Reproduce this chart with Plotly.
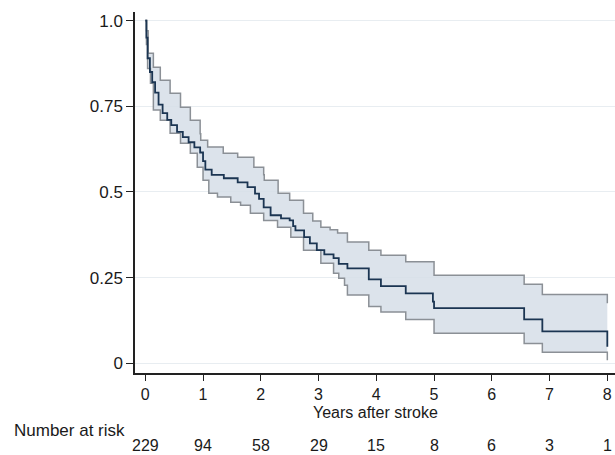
import plotly.graph_objects as go

# Kaplan-Meier estimate (step function)
km_t = [0, 0.02, 0.04, 0.08, 0.12, 0.17, 0.23, 0.30, 0.38, 0.45, 0.55, 0.65, 0.75, 0.85, 0.95,
        1.0, 1.04, 1.15, 1.36, 1.6, 1.77, 1.9, 1.97, 2.05, 2.17, 2.35, 2.5, 2.56, 2.6, 2.75, 2.85,
        2.97, 3.1, 3.26, 3.35, 3.5, 3.87, 4.08, 4.51, 4.98, 5.0, 6.56, 6.875, 8.0]
km_s = [1.0, 0.95, 0.89, 0.85, 0.82, 0.79, 0.755, 0.73, 0.71, 0.695, 0.675, 0.66, 0.645, 0.63, 0.615,
        0.59, 0.565, 0.55, 0.54, 0.528, 0.514, 0.495, 0.48, 0.455, 0.432, 0.423, 0.417, 0.40, 0.388, 0.368, 0.35,
        0.33, 0.318, 0.307, 0.29, 0.277, 0.245, 0.225, 0.204, 0.18, 0.161, 0.128, 0.093, 0.048]

# upper confidence bound
up_t = [0, 0.02, 0.05, 0.14, 0.26, 0.43, 0.61, 0.78, 0.95, 0.96, 1.08, 1.35, 1.6, 1.88, 2.05,
        2.06, 2.3, 2.5, 2.74, 2.9, 3.04, 3.2, 3.33, 3.5, 3.87, 4.08, 4.51, 5.0, 6.56, 6.875, 8.0]
up_s = [1.0, 0.97, 0.905, 0.864, 0.826, 0.788, 0.747, 0.709, 0.67, 0.651, 0.631, 0.613, 0.601, 0.572, 0.55,
        0.534, 0.496, 0.476, 0.438, 0.415, 0.397, 0.39, 0.38, 0.354, 0.33, 0.315, 0.296, 0.257, 0.231, 0.201, 0.175]

# lower confidence bound
lo_t = [0, 0.02, 0.04, 0.09, 0.14, 0.26, 0.43, 0.61, 0.78, 0.9, 1.0, 1.1, 1.25, 1.48, 1.65, 1.82,
        2.05, 2.29, 2.52, 2.74, 3.04, 3.26, 3.35, 3.45, 3.5, 3.87, 4.08, 4.51, 5.0, 6.56, 6.875, 8.0]
lo_s = [1.0, 0.93, 0.86, 0.817, 0.739, 0.709, 0.671, 0.642, 0.613, 0.572, 0.534, 0.496, 0.485, 0.47, 0.461, 0.438,
        0.417, 0.397, 0.368, 0.33, 0.292, 0.263, 0.248, 0.228, 0.199, 0.166, 0.15, 0.128, 0.0876, 0.0575, 0.032, 0.009]

risk_years = [0, 1, 2, 3, 4, 5, 6, 7, 8]
risk_n = [229, 94, 58, 29, 15, 8, 6, 3, 1]

y_ticks = [0, 0.25, 0.5, 0.75, 1.0]
y_ticktext = ["0", "0.25", "0.5", "0.75", "1.0"]
x_ticks = [0, 1, 2, 3, 4, 5, 6, 7, 8]

FONT = "Liberation Sans, Arial, sans-serif"
FS = 17
CI_LINE = "#8b9096"
FILL = "rgba(214,222,231,0.85)"
KM_LINE = "#1b3552"

fig = go.Figure()
fig.add_trace(go.Scatter(x=lo_t, y=lo_s, mode="lines", line=dict(shape="hv", color=CI_LINE, width=1.5),
                         showlegend=False, hoverinfo="skip"))
fig.add_trace(go.Scatter(x=up_t, y=up_s, mode="lines", line=dict(shape="hv", color=CI_LINE, width=1.5),
                         fill="tonexty", fillcolor=FILL, showlegend=False, hoverinfo="skip"))
fig.add_trace(go.Scatter(x=km_t, y=km_s, mode="lines", line=dict(shape="hv", color=KM_LINE, width=1.8),
                         showlegend=False))

annotations = [
    dict(text="Years after stroke", xref="paper", yref="paper", x=0.5, y=-0.109, xanchor="center",
         yanchor="middle", showarrow=False, font=dict(size=16, color="#1a1a1a", family=FONT)),
    dict(text="Number at risk", xref="paper", yref="paper", x=-0.256, y=-0.158, xanchor="left",
         yanchor="middle", showarrow=False, font=dict(size=FS, color="#1a1a1a", family=FONT)),
]
for yr, n in zip(risk_years, risk_n):
    annotations.append(dict(text=str(n), xref="x", yref="paper", x=yr, y=-0.2, xanchor="center",
                            yanchor="middle", showarrow=False,
                            font=dict(size=16, color="#1a1a1a", family=FONT)))

fig.update_layout(
    width=615, height=455,
    margin=dict(l=135, r=0, t=12, b=82),
    paper_bgcolor="white", plot_bgcolor="white",
    font=dict(family=FONT, size=FS, color="#1a1a1a"),
    annotations=annotations,
    xaxis=dict(range=[-0.178, 8.133], tickvals=x_ticks, ticks="outside", ticklen=6, tickwidth=1.3,
               tickcolor="#222", showline=True, linecolor="#222", linewidth=1.5, showgrid=False,
               zeroline=False, automargin=False, tickfont=dict(size=16)),
    yaxis=dict(range=[-0.0283, 1.025], tickvals=y_ticks, ticktext=y_ticktext, ticks="outside", ticklen=7,
               tickwidth=1.3, tickcolor="#222", showline=True, linecolor="#222", linewidth=1.5,
               showgrid=True, gridcolor="#e8edf1", gridwidth=1, zeroline=False, automargin=False,
               tickfont=dict(size=FS)),
)

fig.write_html("out.html", config={"displayModeBar": False},
               post_script="document.body.style.margin='0';document.body.style.overflow='hidden';")
